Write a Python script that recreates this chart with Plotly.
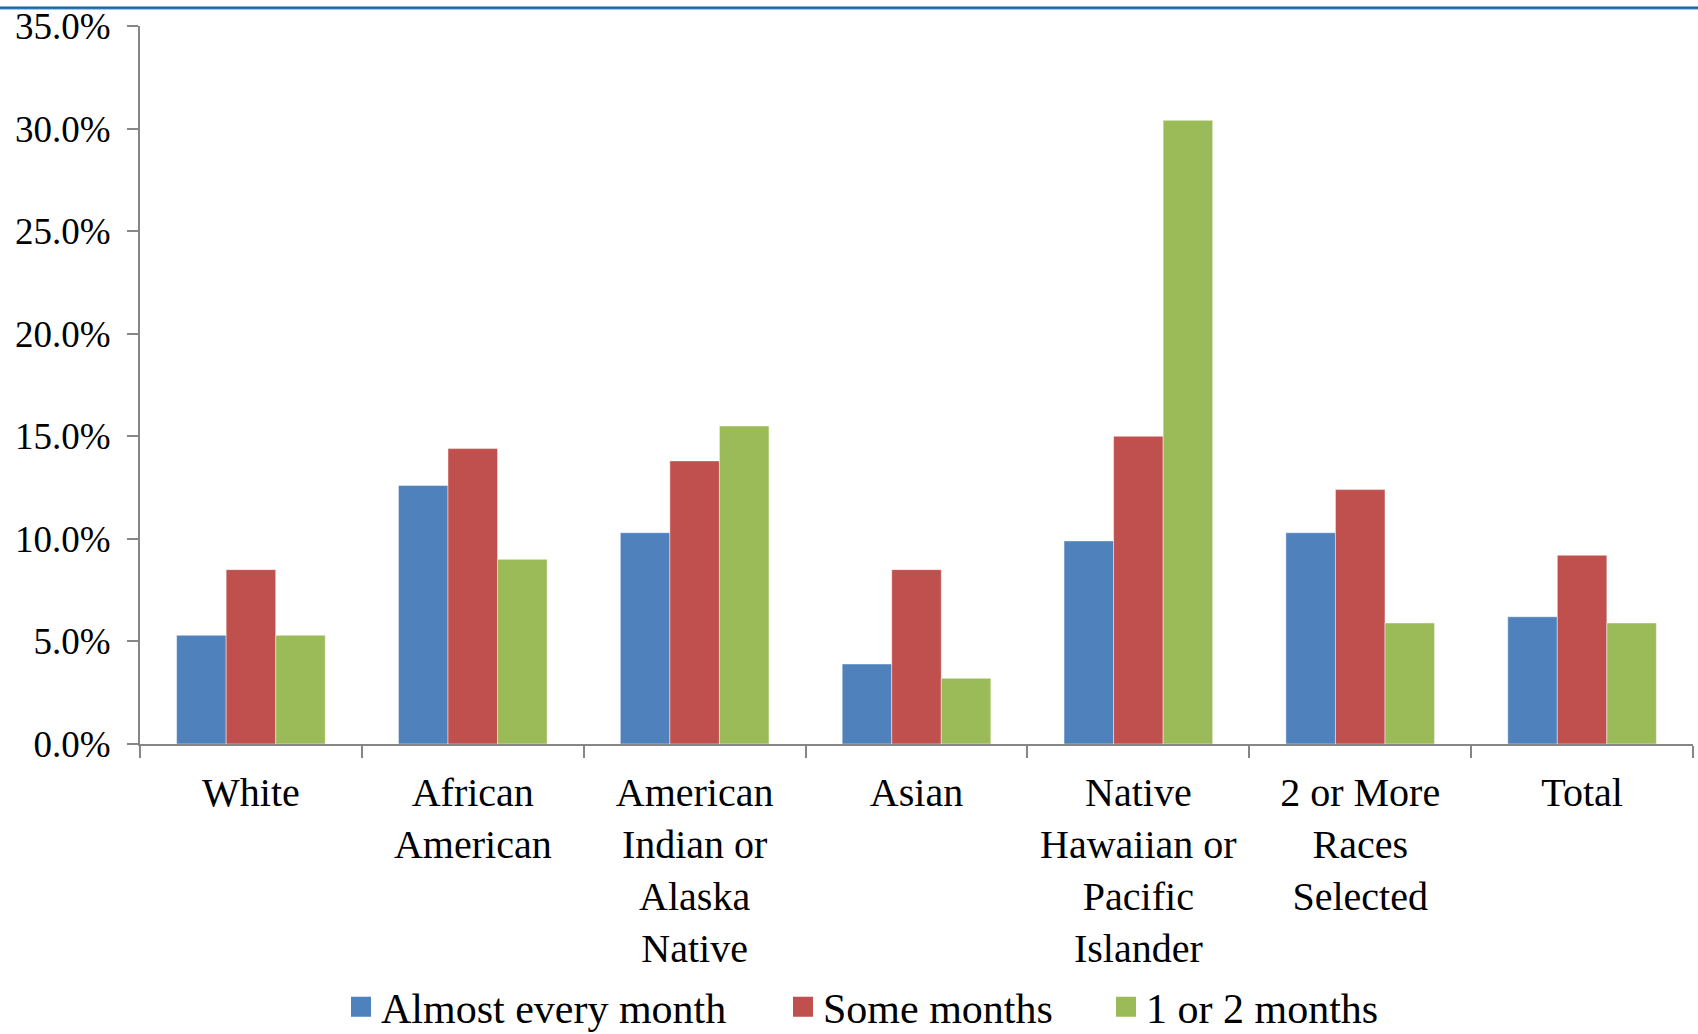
import plotly.graph_objects as go

# Share of each group, by how often the hardship occurred (percent)
categories = [
    "White",
    "African<br>American",
    "American<br>Indian or<br>Alaska<br>Native",
    "Asian",
    "Native<br>Hawaiian or<br>Pacific<br>Islander",
    "2 or More<br>Races<br>Selected",
    "Total",
]
almost_every_month = [5.3, 12.6, 10.3, 3.9, 9.9, 10.3, 6.2]
some_months = [8.5, 14.4, 13.8, 8.5, 15.0, 12.4, 9.2]
one_or_two_months = [5.3, 9.0, 15.5, 3.2, 30.4, 5.9, 5.9]

series_names = ["Almost every month", "Some months", "1 or 2 months"]
series_colors = ["#4F81BD", "#C0504D", "#9BBB59"]
series_values = [almost_every_month, some_months, one_or_two_months]

y_ticks = [0, 5, 10, 15, 20, 25, 30, 35]

FONT = "Liberation Serif, Times New Roman, serif"
AXIS_GREY = "#868686"

# each legend entry gets its own legend box so the entries can be spaced freely
legend_ids = ["legend", "legend2", "legend3"]
legend_left = [341, 783, 1106]   # left edge of each legend box, px

fig = go.Figure()
for name, color, values, lid in zip(series_names, series_colors, series_values, legend_ids):
    fig.add_trace(go.Bar(
        x=categories,
        y=values,
        name=name,
        showlegend=False,
        marker=dict(color=color, line=dict(color="rgba(255,255,255,0.45)", width=1)),
        hovertemplate="%{y:.1f}%<extra>" + name + "</extra>",
    ))
    # legend swatch: a large square marker, no data
    fig.add_trace(go.Scatter(
        x=[None],
        y=[None],
        mode="markers",
        name=name,
        legend=lid,
        showlegend=True,
        marker=dict(symbol="square", size=16, color=color, line=dict(color=color, width=4)),
        hoverinfo="skip",
    ))

legend_common = dict(
    orientation="h",
    xref="container",
    yref="container",
    xanchor="left",
    y=1 - 1007 / 1034,
    yanchor="middle",
    font=dict(family=FONT, size=42, color="black"),
    itemsizing="trace",
    itemwidth=30,
    bgcolor="rgba(0,0,0,0)",
)

fig.update_layout(
    width=1698,
    height=1034,
    margin=dict(l=140, r=5, t=26, b=290, autoexpand=False),
    paper_bgcolor="white",
    plot_bgcolor="white",
    barmode="group",
    bargap=0.33,
    bargroupgap=0,
    font=dict(family=FONT, color="black"),
    showlegend=True,
    legend=dict(legend_common, x=legend_left[0] / 1698),
    legend2=dict(legend_common, x=legend_left[1] / 1698),
    legend3=dict(legend_common, x=legend_left[2] / 1698),
    xaxis=dict(
        type="category",
        automargin=False,
        showline=True,
        linecolor=AXIS_GREY,
        linewidth=2,
        ticks="outside",
        tickson="boundaries",
        ticklen=12,
        tickwidth=2,
        tickcolor=AXIS_GREY,
        tickfont=dict(family=FONT, size=40, color="black"),
        ticklabelstandoff=12,
        showgrid=False,
        zeroline=False,
        tickangle=0,
    ),
    yaxis=dict(
        range=[0, 35],
        automargin=False,
        tickvals=y_ticks,
        ticktext=[f"{v:.1f}%" for v in y_ticks],
        showline=True,
        linecolor=AXIS_GREY,
        linewidth=2,
        ticks="outside",
        ticklen=11,
        tickwidth=2,
        tickcolor=AXIS_GREY,
        tickfont=dict(family=FONT, size=37, color="black"),
        ticklabelstandoff=9,
        showgrid=False,
        zeroline=False,
    ),
)

# Rule across the top of the page
plot_w = 1698 - 140 - 5
plot_h = 1034 - 26 - 290
x_left = -140 / plot_w
x_right = 1 + 5 / plot_w
fig.add_shape(type="line", xref="paper", yref="paper",
              x0=x_left, x1=x_right, y0=1 + (26 - 7.7) / plot_h, y1=1 + (26 - 7.7) / plot_h,
              line=dict(color="#1565A8", width=2.5))
fig.add_shape(type="line", xref="paper", yref="paper",
              x0=x_left, x1=x_right, y0=1 + (26 - 9.3) / plot_h, y1=1 + (26 - 9.3) / plot_h,
              line=dict(color="#8DB4E2", width=1))

fig.write_html("out.html")
